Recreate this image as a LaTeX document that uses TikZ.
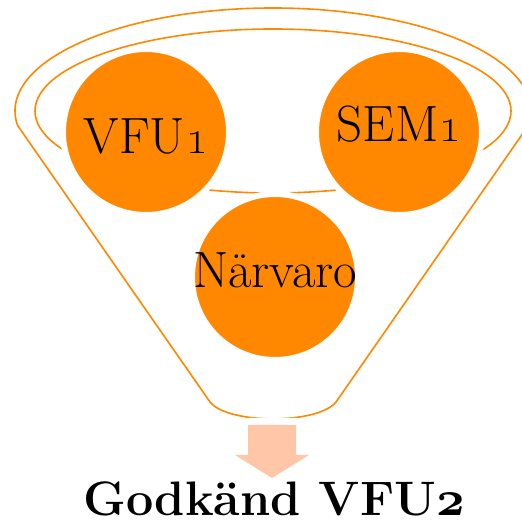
\documentclass[tikz,border=0pt]{standalone}
\usepackage{tikz}
\usetikzlibrary{positioning}
\definecolor{funnelorange}{HTML}{FF8800}
\definecolor{arrowpeach}{HTML}{FFC6A8}

\begin{document}
\begin{tikzpicture}[x=0.5pt,y=0.5pt,
	rim/.style={draw=funnelorange,line width=0.8pt},
	stage/.style={circle,fill=funnelorange,draw=white,line width=3pt,minimum size=83pt,inner sep=0pt,text depth=0pt,font=\fontsize{25.5}{30}\selectfont},
	result/.style={font=\fontsize{24.2}{29}\selectfont\bfseries}
	]
	\useasboundingbox (0,0) rectangle (522,523);

	% the funnel
	\coordinate (rimc) at (273,412);
	\draw[rim] (rimc) ellipse[x radius=119pt,y radius=41pt];
	\draw[rim] (210,121) -- ([shift={(188:129pt and 51.5pt)}]rimc)
		arc[start angle=188,end angle=-8,x radius=129pt,y radius=51.5pt]
		-- (336,121) .. controls (318,98.5) and (228,98.5) .. (210,121) -- cycle;

	% the three stages
	\node[stage,text height=22pt] (vfu) at (146,391) {VFU\oldstylenums{1}};
	\node[stage,text height=10pt] (sem) at (399,391) {SEM\oldstylenums{1}};
	\node[stage,text height=11pt] (narvaro) at (275,246) {Närvaro};

	% the outcome
	\fill[arrowpeach,preaction={draw=white,line width=7pt,line join=round}]
		(248,98) -- (296,98) -- (296,68) -- (309,68) -- (272,45) -- (235,68) -- (248,68) -- cycle;
	\node[result,anchor=base] (godkand) at (274,8) {Godkänd VFU{\usefont{OML}{cmm}{b}{it}2}};
\end{tikzpicture}
\end{document}
